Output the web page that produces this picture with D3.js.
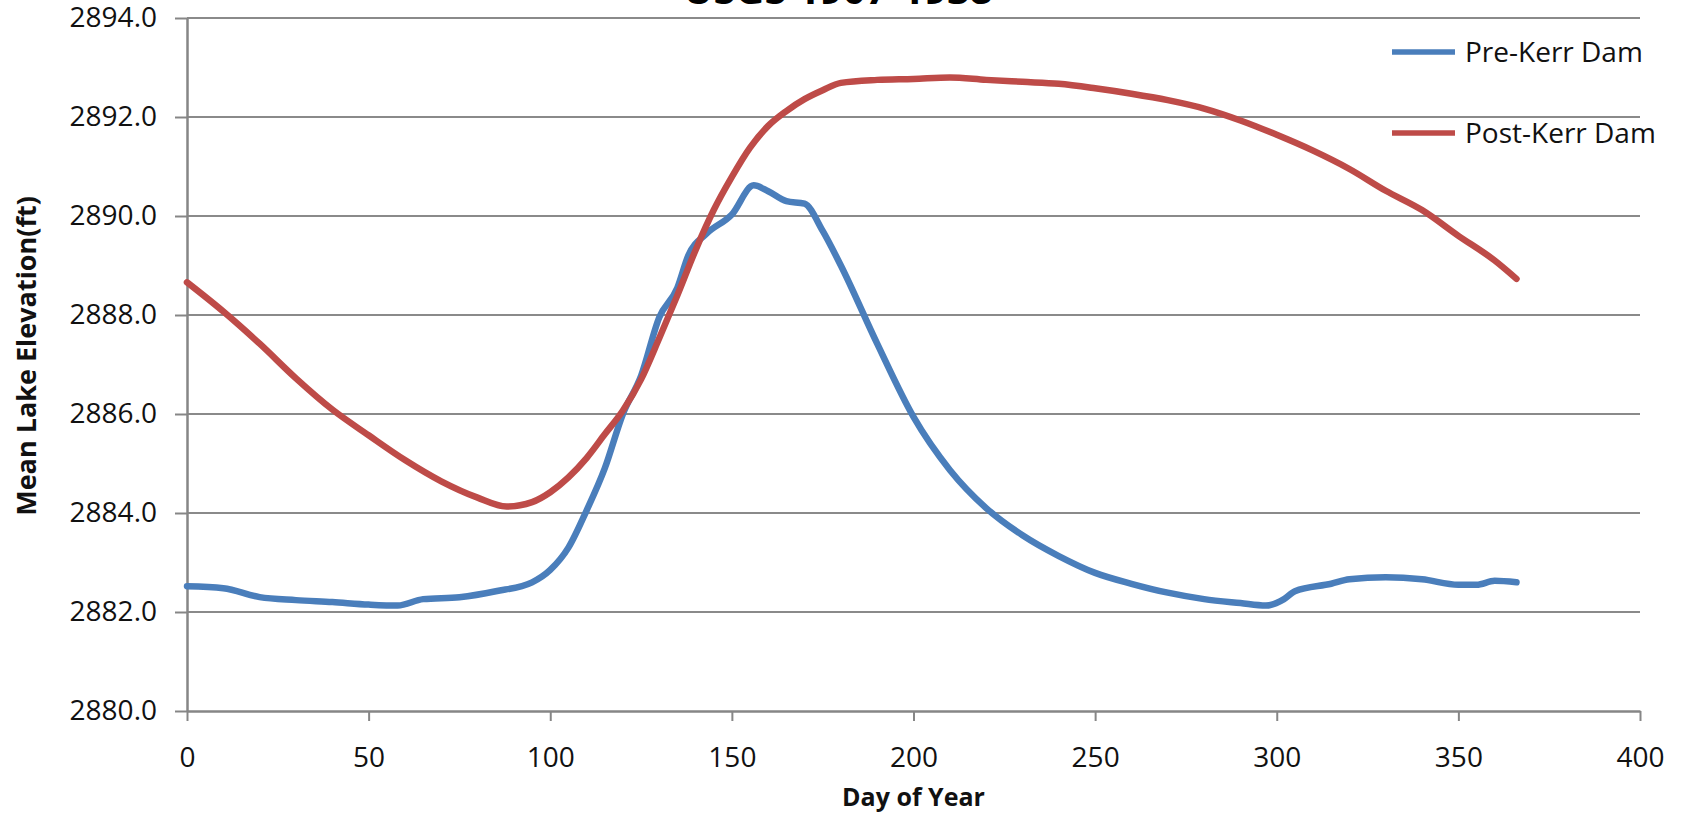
<!DOCTYPE html>
<html>
<head>
<meta charset="utf-8">
<script src="https://cdn.jsdelivr.net/npm/d3@7"></script>
<style>
  body { margin: 0; background: #fff; }
  svg { font-family: "Open Sans", "Noto Sans", sans-serif; }
</style>
</head>
<body>
<svg id="chart"></svg>
<script>
// day of year samples
var preDays = [0, 10, 20, 30, 40, 50, 58, 65, 75, 85, 95, 100, 105, 110, 115, 120, 125, 130, 135, 138, 143, 150, 156, 160, 165, 170, 175, 180, 190, 200, 210, 220, 230, 240, 250, 260, 270, 280, 290, 297, 302, 305, 315, 320, 330, 340, 350, 355, 360, 366];
var preKerr = [2882.52, 2882.48, 2882.3, 2882.24, 2882.2, 2882.15, 2882.13, 2882.26, 2882.3, 2882.42, 2882.6, 2882.85, 2883.3, 2884.05, 2884.9, 2886.0, 2886.77, 2887.95, 2888.55, 2889.2, 2889.64, 2890.03, 2890.62, 2890.5, 2890.3, 2890.25, 2889.7, 2889.0, 2887.42, 2885.94, 2884.87, 2884.1, 2883.55, 2883.13, 2882.79, 2882.57, 2882.39, 2882.26, 2882.18, 2882.13, 2882.26, 2882.42, 2882.57, 2882.66, 2882.7, 2882.66, 2882.55, 2882.55, 2882.63, 2882.6];

var postDays = [0, 10, 20, 30, 40, 50, 60, 70, 80, 88, 95, 100, 105, 110, 115, 120, 125, 130, 135, 140, 145, 150, 155, 160, 165, 170, 175, 180, 190, 200, 210, 220, 230, 240, 250, 260, 270, 280, 290, 300, 310, 320, 330, 340, 350, 360, 366];
var postKerr = [2888.66, 2888.07, 2887.42, 2886.72, 2886.09, 2885.57, 2885.07, 2884.64, 2884.31, 2884.13, 2884.22, 2884.42, 2884.72, 2885.11, 2885.59, 2886.07, 2886.7, 2887.53, 2888.4, 2889.31, 2890.12, 2890.79, 2891.38, 2891.82, 2892.12, 2892.36, 2892.54, 2892.69, 2892.75, 2892.77, 2892.8, 2892.75, 2892.71, 2892.67, 2892.58, 2892.47, 2892.34, 2892.17, 2891.93, 2891.64, 2891.32, 2890.95, 2890.51, 2890.12, 2889.6, 2889.1, 2888.73];

var xTicks = [0, 50, 100, 150, 200, 250, 300, 350, 400];
var yTicks = [2880, 2882, 2884, 2886, 2888, 2890, 2892, 2894];
var seriesNames = ["Pre-Kerr Dam", "Post-Kerr Dam"];
var seriesColors = ["#4a7ebb", "#be4b48"];

var width = 1685, height = 814;
var plotLeft = 187, plotRight = 1640, plotTop = 18, plotBottom = 711;

var svg = d3.select("#chart")
    .attr("width", width)
    .attr("height", height);

var x = d3.scaleLinear().domain([0, 400]).range([plotLeft, plotRight]);
var y = d3.scaleLinear().domain([2880, 2894]).range([plotBottom, plotTop]);

// horizontal grid lines
svg.append("g")
    .selectAll("line")
    .data(yTicks.slice(1))
    .enter().append("line")
    .attr("x1", plotLeft)
    .attr("x2", plotRight)
    .attr("y1", function(d) { return y(d); })
    .attr("y2", function(d) { return y(d); })
    .style("stroke", "#8a8a8a")
    .style("stroke-width", 2);

// axes
var yAxis = svg.append("g")
    .attr("transform", "translate(" + plotLeft + ",0)")
    .call(d3.axisLeft(y).tickValues(yTicks).tickSize(12).tickSizeOuter(0).tickPadding(18)
        .tickFormat(d3.format(".1f")));

var xAxis = svg.append("g")
    .attr("transform", "translate(0," + plotBottom + ")")
    .call(d3.axisBottom(x).tickValues(xTicks).tickSize(10).tickSizeOuter(0).tickPadding(26));

[xAxis, yAxis].forEach(function(ax) {
    ax.select(".domain").style("stroke", "#868686").style("stroke-width", 2.5);
    ax.selectAll(".tick line").style("stroke", "#868686").style("stroke-width", 2);
    ax.selectAll(".tick text")
        .style("font-size", "28px")
        .style("fill", "#111")
        .style("font-family", "'Open Sans', sans-serif");
});

// lines
var line = d3.line()
    .x(function(d) { return x(d[0]); })
    .y(function(d) { return y(d[1]); })
    .curve(d3.curveMonotoneX);

var series = [d3.zip(preDays, preKerr), d3.zip(postDays, postKerr)];

svg.append("g")
    .selectAll("path")
    .data(series)
    .enter().append("path")
    .attr("d", line)
    .style("fill", "none")
    .style("stroke", function(d, i) { return seriesColors[i]; })
    .style("stroke-width", 6.5)
    .style("stroke-linejoin", "round")
    .style("stroke-linecap", "round");

// legend
var legend = svg.append("g")
    .selectAll("g")
    .data(seriesNames)
    .enter().append("g")
    .attr("transform", function(d, i) { return "translate(1392," + (52 + i * 81) + ")"; });

legend.append("line")
    .attr("x1", 0)
    .attr("x2", 63)
    .style("stroke", function(d, i) { return seriesColors[i]; })
    .style("stroke-width", 5.5);

legend.append("text")
    .attr("x", 73)
    .attr("dy", ".35em")
    .style("font-size", "28px")
    .style("fill", "#111")
    .text(function(d) { return d; });

// axis titles
svg.append("text")
    .attr("x", (plotLeft + plotRight) / 2)
    .attr("y", 806)
    .attr("text-anchor", "middle")
    .style("font-size", "25px")
    .style("font-weight", "bold")
    .style("fill", "#111")
    .text("Day of Year");

svg.append("text")
    .attr("transform", "translate(36,356) rotate(-90)")
    .attr("text-anchor", "middle")
    .style("font-size", "27px")
    .style("font-weight", "bold")
    .style("fill", "#111")
    .text("Mean Lake Elevation(ft)");

// title, cut off at the top edge as in the picture
svg.append("text")
    .attr("x", 838)
    .attr("y", 4)
    .attr("text-anchor", "middle")
    .style("font-size", "40px")
    .style("font-weight", "bold")
    .style("fill", "#000")
    .text("USGS 1907-1938");
</script>
</body>
</html>
